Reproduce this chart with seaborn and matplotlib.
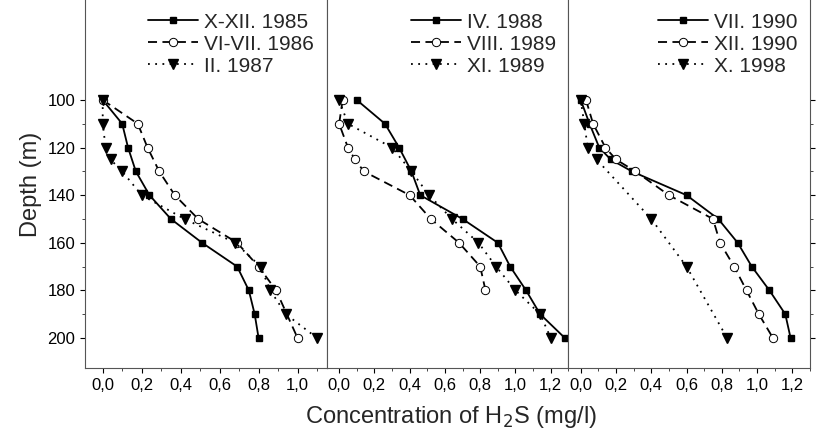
import matplotlib
matplotlib.use("Agg")
import matplotlib.pyplot as plt
import seaborn as sns
import numpy as np

sns.set_style("ticks")
plt.rcParams['font.family'] = ['Liberation Sans', 'DejaVu Sans']

# Panel 1
d1a = [100,110,120,130,140,150,160,170,180,190,200]
c1a = [0.0,0.1,0.13,0.17,0.24,0.35,0.51,0.69,0.75,0.78,0.80]
d1b = [100,110,120,130,140,150,160,170,180,200]
c1b = [0.0,0.18,0.23,0.29,0.37,0.49,0.69,0.80,0.89,1.0]
d1c = [100,110,120,125,130,140,150,160,170,180,190,200]
c1c = [0.0,0.0,0.015,0.04,0.1,0.2,0.42,0.68,0.81,0.86,0.94,1.10]
# Panel 2
d2a = [100,110,120,130,140,150,160,170,180,190,200]
c2a = [0.1,0.26,0.34,0.41,0.46,0.70,0.9,0.97,1.06,1.14,1.28]
d2b = [100,110,120,125,130,140,150,160,170,180]
c2b = [0.02,0.0,0.05,0.09,0.14,0.40,0.52,0.68,0.80,0.83]
d2c = [100,110,120,130,140,150,160,170,180,190,200]
c2c = [0.0,0.05,0.30,0.41,0.51,0.64,0.79,0.89,1.0,1.14,1.20]
# Panel 3
d3a = [100,110,120,125,130,140,150,160,170,180,190,200]
c3a = [0.0,0.05,0.105,0.17,0.29,0.60,0.78,0.89,0.97,1.07,1.16,1.19]
d3b = [100,110,120,125,130,140,150,160,170,180,190,200]
c3b = [0.03,0.07,0.14,0.2,0.31,0.5,0.75,0.79,0.87,0.94,1.01,1.09]
d3c = [100,110,120,125,150,170,200]
c3c = [0.0,0.02,0.04,0.09,0.40,0.60,0.83]

labels = [["X-XII. 1985","VI-VII. 1986","II. 1987"],
          ["IV. 1988","VIII. 1989","XI. 1989"],
          ["VII. 1990","XII. 1990","X. 1998"]]
data = [[(c1a,d1a),(c1b,d1b),(c1c,d1c)],
        [(c2a,d2a),(c2b,d2b),(c2c,d2c)],
        [(c3a,d3a),(c3b,d3b),(c3c,d3c)]]
xlims = [(-0.09,1.15),(-0.07,1.30),(-0.07,1.21)]
xmax_tick = [1.0,1.2,1.2]

styles = [dict(ls='-', marker='s', mfc='black', mec='black', ms=5),
          dict(ls=(0,(5,3)), marker='o', mfc='white', mec='black', ms=6, mew=0.7),
          dict(ls=(0,(1,3)), marker='v', mfc='black', mec='black', ms=7)]

fig, axes = plt.subplots(1, 3, figsize=(8.19, 4.36), dpi=100, sharey=True)
fig.subplots_adjust(left=0.104, right=0.989, top=1.0, bottom=0.156, wspace=0)
for i, ax in enumerate(axes):
    for j, (c, d) in enumerate(data[i]):
        st = styles[j]
        sns.lineplot(x=c, y=d, sort=False, estimator=None, ax=ax, color='black',
                     lw=1.3, label=labels[i][j], linestyle=st['ls'], marker=st['marker'],
                     markerfacecolor=st['mfc'], markeredgecolor=st['mec'],
                     markersize=st['ms'], markeredgewidth=st.get('mew',1))
    ax.set_xlim(*xlims[i])
    ax.set_ylim(212.6, 58)
    ticks = np.round(np.arange(0, xmax_tick[i]+0.01, 0.2), 1)
    ax.set_xticks(ticks)
    ax.set_xticks(np.arange(0, xmax_tick[i]+0.11, 0.1), minor=True)
    ax.set_xticklabels([f"{v:.1f}".replace('.', ',') for v in ticks])
    ax.spines['top'].set_visible(False)
    for s in ax.spines.values():
        s.set_color('#555555')
    ax.tick_params(labelsize=12, direction='out', colors='black')
    ax.tick_params(axis='y', which='both', right=(i == 2), left=(i == 0))
    ax.set_yticks([100,120,140,160,180,200])
    ax.set_yticks([110,130,150,170,190], minor=True)
    ax.legend(loc='upper right', frameon=False, fontsize=15, handlelength=2.4,
              borderaxespad=0.2, labelspacing=0.15, handletextpad=0.3)
    ax.set_xlabel("")
axes[0].set_ylabel("Depth (m)", fontsize=17)
fig.text(0.55, 0.03, "Concentration of H$_2$S (mg/l)", ha='center', fontsize=17)
fig.savefig("out.png", dpi=100)
